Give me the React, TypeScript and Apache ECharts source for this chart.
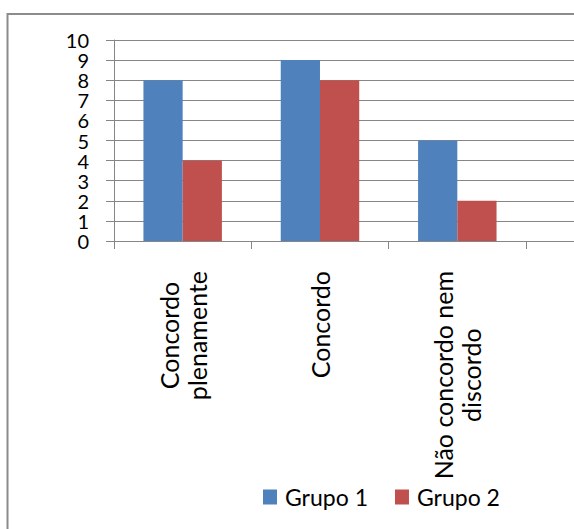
import React, { useEffect, useRef } from "react";
import * as echarts from "echarts";

// Category names (line breaks as in the picture); the fourth category lies outside the visible crop
const categories = ["Concordo\nplenamente", "Concordo", "Não concordo nem\ndiscordo", ""];
const grupo1 = [8, 9, 5, null];
const grupo2 = [4, 8, 2, null];
const seriesNames = ["Grupo 1", "Grupo 2"];
const yTicks = { min: 0, max: 10, interval: 1 };

const FONT = "Lato";
const GRAY = "#868686";
const CHART_W = 700;

export default function App() {
  const ref = useRef<HTMLDivElement>(null);

  useEffect(() => {
    if (!ref.current) return;
    const chart = echarts.init(ref.current, undefined, { renderer: "svg" });
    chart.setOption({
      animation: false,
      backgroundColor: "#ffffff",
      textStyle: { fontFamily: FONT, color: "#000" },
      graphic: [
        {
          type: "rect",
          shape: { x: 7.5, y: 14, width: 800, height: 600 },
          style: { fill: "none", stroke: "#8c8c8c", lineWidth: 2 },
          silent: true,
        },
      ],
      grid: { left: 114, top: 40, bottom: 288, right: CHART_W - 663.3 },
      legend: {
        data: seriesNames,
        left: 263,
        top: 484,
        padding: 0,
        itemWidth: 14,
        itemHeight: 15,
        itemGap: 27,
        icon: "rect",
        textStyle: {
          fontFamily: FONT,
          fontSize: 23,
          color: "#000",
          lineHeight: 26,
          padding: [0, 0, 0, 3],
        },
      },
      xAxis: {
        type: "category",
        data: categories,
        axisLine: { show: true, lineStyle: { color: GRAY, width: 1 } },
        axisTick: { show: true, length: 8, alignWithLabel: false, lineStyle: { color: GRAY } },
        axisLabel: {
          interval: 0,
          rotate: 90,
          margin: 30,
          fontFamily: FONT,
          fontSize: 25,
          color: "#000",
          formatter: (v: string) =>
            v
              .split("\n")
              .map((l) => `{c|${l}}`)
              .join("\n"),
          rich: {
            c: { align: "center", fontFamily: FONT, fontSize: 25, lineHeight: 28, color: "#000" },
          },
        },
        splitLine: { show: false },
      },
      yAxis: {
        type: "value",
        min: yTicks.min,
        max: yTicks.max,
        interval: yTicks.interval,
        axisLine: { show: true, lineStyle: { color: GRAY, width: 1 } },
        axisTick: { show: true, length: 8, lineStyle: { color: GRAY } },
        axisLabel: {
          showMinLabel: true,
          showMaxLabel: true,
          hideOverlap: false,
          textMargin: 0,
          margin: 25,
          fontFamily: FONT,
          fontSize: 20,
          lineHeight: 14,
          color: "#000",
        },
        splitLine: { show: true, lineStyle: { color: GRAY, width: 1 } },
      },
      series: [
        {
          name: seriesNames[0],
          type: "bar",
          data: grupo1,
          itemStyle: { color: "#4F81BD" },
          barGap: "0%",
          barCategoryGap: "42.86%",
        },
        {
          name: seriesNames[1],
          type: "bar",
          data: grupo2,
          itemStyle: { color: "#C0504D" },
          barGap: "0%",
          barCategoryGap: "42.86%",
        },
      ],
    });
    return () => chart.dispose();
  }, []);

  return (
    <div
      style={{ position: "fixed", left: 0, top: 0, width: 574, height: 529, overflow: "hidden", background: "#fff" }}
    >
      <div ref={ref} style={{ width: CHART_W, height: 529 }} />
    </div>
  );
}
